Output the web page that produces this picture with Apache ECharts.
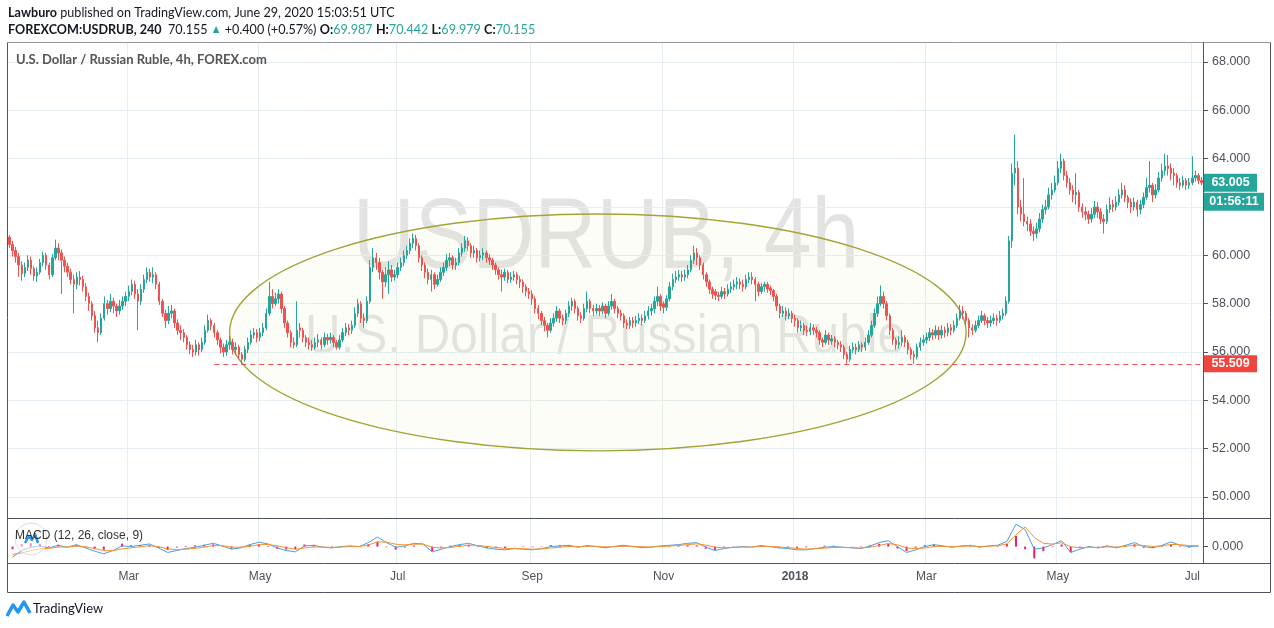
<!DOCTYPE html>
<html><head><meta charset="utf-8">
<script src="https://cdn.jsdelivr.net/npm/echarts@6/dist/echarts.min.js"></script>
<style>html,body{margin:0;padding:0;background:#fff}#c{width:1274px;height:628px}</style>
</head><body><div id="c"></div>
<script>
// ---------- DATA (daily candles, Jan 5 2017 - Jul 2018) ----------
const opens = [
// Jan 2017
60.75,60.45,60.2,59.95,59.6,59.25,59.5,59.8,59.45,59.15,59.3,59.7,60.0,59.6,59.2,59.9,60.3,60.1,59.8,
// Feb
59.55,59.3,59.0,58.8,59.1,59.0,58.7,58.3,58.0,57.5,57.0,56.8,57.4,58.0,57.8,58.1,57.9,57.7,57.9,58.1,
// Mar
58.3,58.5,58.8,58.4,58.1,58.6,59.0,59.3,59.1,59.2,58.8,58.1,57.6,57.3,57.6,57.7,57.2,56.9,56.8,56.6,56.3,56.1,56.0,
// Apr
56.3,56.1,56.4,56.9,57.3,57.1,56.8,56.5,56.2,56.0,56.3,56.4,56.1,56.2,55.9,55.7,56.1,56.4,56.7,56.8,
// May
56.6,56.8,57.0,57.6,58.3,58.0,58.2,58.4,57.8,57.2,56.8,56.4,56.3,57.0,56.9,56.6,56.4,56.3,56.2,56.4,56.5,56.3,56.6,
// Jun
56.5,56.6,56.4,56.2,56.5,56.8,57.0,56.9,57.1,57.6,58.0,57.4,57.3,58.1,59.5,59.9,59.7,59.3,58.9,59.2,59.4,59.1,
// Jul
59.2,59.5,59.7,60.0,60.2,60.5,60.7,60.4,59.9,59.6,59.3,59.0,59.2,58.8,59.0,59.3,59.5,59.8,59.9,59.6,59.7,
// Aug
60.1,60.3,60.6,60.4,60.1,60.2,59.9,60.0,60.1,59.9,59.8,59.6,59.4,59.2,59.1,59.3,59.0,59.1,59.2,59.0,58.9,58.7,58.5,
// Sep
58.4,58.2,57.8,57.6,57.3,57.1,56.9,57.2,57.4,57.7,57.4,57.3,57.6,57.9,58.1,57.8,57.5,57.4,57.8,58.1,57.8,
// Oct
57.7,57.8,57.7,57.9,57.6,57.9,58.1,57.8,57.6,57.5,57.2,57.1,57.3,57.2,57.3,57.4,57.3,57.5,57.7,57.8,58.1,58.3,
// Nov
58.0,57.85,58.2,58.7,59.0,59.1,59.2,59.1,59.2,59.4,59.8,60.1,59.9,59.6,59.2,58.9,58.6,58.5,58.35,58.3,58.5,58.4,
// Dec
58.6,58.7,58.8,58.9,58.8,58.7,59.0,59.1,59.0,58.8,58.5,58.7,58.8,58.65,58.55,58.3,57.9,57.6,57.7,57.5,57.6,
// Jan 2018
57.4,57.3,57.0,57.1,56.9,56.85,57.0,56.9,56.8,56.5,56.4,56.7,56.45,56.55,56.4,56.3,56.2,55.9,55.7,56.1,56.2,56.1,56.3,
// Feb
56.2,56.4,56.7,57.1,57.6,58.0,58.3,58.0,57.5,56.9,56.5,56.3,56.4,56.6,56.4,56.1,55.9,55.8,56.2,56.4,
// Mar
56.5,56.6,56.8,56.7,56.9,56.7,56.9,56.8,57.0,56.9,57.1,57.4,57.7,57.6,57.3,57.0,56.9,57.1,57.3,57.5,57.3,57.2,
// Apr
57.3,57.4,57.3,57.5,57.6,58.1,60.6,63.4,63.6,62.0,61.7,61.4,61.3,61.0,60.9,61.1,61.5,61.9,62.0,62.5,62.7,
// May
63.0,63.6,63.9,63.3,63.0,62.7,62.5,62.6,62.0,61.8,61.7,61.5,61.7,62.0,61.8,61.5,61.4,61.9,62.1,62.0,62.2,62.5,62.7,
// Jun
62.4,62.2,62.0,62.2,61.9,62.1,62.4,62.8,62.9,62.5,62.7,63.2,63.5,63.7,63.6,63.4,63.3,63.0,62.9,63.1,62.9,
// Jul
63.0,63.2,63.3,63.1
];
const closes = [
60.45,60.2,59.95,59.6,59.25,59.5,59.8,59.45,59.15,59.3,59.7,60.0,59.6,59.2,59.9,60.3,60.1,59.8,59.55,
59.3,59.0,58.8,59.1,59.0,58.7,58.3,58.0,57.5,57.0,56.8,57.4,58.0,57.8,58.1,57.9,57.7,57.9,58.1,58.3,
58.5,58.8,58.4,58.1,58.6,59.0,59.3,59.1,59.2,58.8,58.1,57.6,57.3,57.6,57.7,57.2,56.9,56.8,56.6,56.3,56.1,56.0,56.3,
56.1,56.4,56.9,57.3,57.1,56.8,56.5,56.2,56.0,56.3,56.4,56.1,56.2,55.9,55.7,56.1,56.4,56.7,56.8,56.6,
56.8,57.0,57.6,58.3,58.0,58.2,58.4,57.8,57.2,56.8,56.4,56.3,56.9,56.9,56.6,56.4,56.3,56.2,56.4,56.5,56.3,56.6,56.5,
56.6,56.4,56.2,56.5,56.8,57.0,56.9,57.1,57.6,58.0,57.4,57.3,58.1,59.5,59.9,59.7,59.3,58.9,59.2,59.4,59.1,59.2,
59.5,59.7,60.0,60.2,60.5,60.7,60.4,59.9,59.6,59.3,59.0,59.2,58.8,59.0,59.3,59.5,59.8,59.9,59.6,59.7,60.1,
60.3,60.6,60.4,60.1,60.2,59.9,60.0,60.1,59.9,59.8,59.6,59.4,59.2,59.1,59.3,59.0,59.1,59.2,59.0,58.9,58.7,58.5,58.4,
58.2,57.8,57.6,57.3,57.1,56.9,57.2,57.4,57.7,57.4,57.3,57.6,57.9,58.1,57.8,57.5,57.4,57.8,58.1,57.8,57.7,
57.8,57.7,57.9,57.6,57.9,58.1,57.8,57.6,57.5,57.2,57.1,57.3,57.2,57.3,57.4,57.3,57.5,57.7,57.8,58.1,58.3,57.9,
57.85,58.2,58.7,59.0,59.1,59.2,59.1,59.2,59.4,59.8,60.1,59.9,59.6,59.2,58.9,58.6,58.4,58.35,58.3,58.5,58.4,58.6,
58.7,58.8,58.9,58.8,58.7,59.0,59.1,59.0,58.8,58.5,58.7,58.8,58.6,58.55,58.3,57.9,57.6,57.7,57.5,57.6,57.4,
57.3,57.0,57.1,56.9,56.85,57.0,56.9,56.8,56.5,56.4,56.7,56.5,56.55,56.4,56.3,56.2,55.9,55.7,56.1,56.2,56.1,56.3,56.2,
56.4,56.7,57.1,57.6,58.0,58.3,58.0,57.5,56.9,56.5,56.3,56.4,56.6,56.4,56.1,55.9,55.8,56.2,56.4,56.5,
56.6,56.8,56.7,56.9,56.7,56.9,56.8,57.0,56.9,57.1,57.4,57.7,57.6,57.3,57.0,56.9,57.1,57.3,57.5,57.3,57.2,57.3,
57.4,57.3,57.5,57.6,58.1,60.6,63.4,63.6,62.0,61.7,61.4,61.3,61.0,60.9,61.1,61.5,61.9,62.0,62.5,62.7,63.0,
63.6,63.9,63.3,63.0,62.7,62.5,62.6,62.0,61.8,61.7,61.5,61.7,62.0,61.8,61.5,61.4,61.9,62.1,62.0,62.2,62.5,62.7,62.4,
62.2,62.0,62.2,61.9,62.1,62.4,62.8,62.9,62.5,62.7,63.2,63.5,63.7,63.6,63.4,63.3,63.0,62.9,63.1,62.9,63.0,
63.2,63.3,63.1,63.005
];
const lows = [
60.3,59.95,59.7,59.1,58.95,59.1,59.35,59.2,58.95,58.9,59.2,59.55,59.4,59.0,59.1,59.8,59.8,58.4,59.3,
59.1,58.8,57.6,58.6,58.75,58.5,58.1,57.7,57.3,56.8,56.4,56.7,57.3,57.55,57.65,57.6,57.45,57.55,57.75,57.9,
58.1,58.35,58.2,56.9,57.95,58.45,58.85,58.9,58.85,58.6,57.95,57.45,57.0,57.15,57.4,57.0,56.7,56.5,56.4,56.1,55.9,55.8,55.85,
55.85,56.0,56.3,56.8,56.9,56.6,56.3,55.95,55.8,55.85,56.1,55.9,55.9,55.7,55.51,55.6,55.95,56.3,56.55,56.4,
56.45,56.65,56.9,57.5,57.8,57.9,58.0,57.6,57.0,56.6,56.2,56.15,56.2,56.6,56.4,56.2,56.1,56.05,56.1,56.2,56.1,56.2,56.3,
56.35,56.2,56.1,56.1,56.4,56.65,56.7,56.75,57.0,57.45,57.2,57.0,57.2,58.0,59.3,59.4,59.0,58.2,58.7,58.4,58.9,58.95,
59.05,59.35,59.55,59.85,60.05,60.3,60.2,59.7,59.35,59.05,58.8,58.5,58.6,58.7,58.9,59.15,59.35,59.55,59.4,59.4,59.6,
59.95,60.15,60.2,59.9,59.9,59.7,59.75,59.8,59.7,59.6,59.4,59.2,59.0,58.5,58.95,58.85,58.85,58.95,58.8,58.65,58.45,58.3,58.2,
57.95,57.6,57.35,57.1,56.85,56.6,56.8,57.05,57.25,57.2,57.1,57.15,57.45,57.7,57.6,57.3,57.2,57.3,57.65,57.6,57.5,
57.55,57.5,57.55,57.4,57.5,57.75,57.6,57.4,57.3,57.0,56.95,56.95,57.0,57.05,57.15,57.1,57.2,57.35,57.5,57.6,57.9,57.7,
57.6,57.7,58.1,58.55,58.85,58.95,58.9,58.95,59.05,59.3,59.65,59.6,59.4,59.0,58.7,58.4,58.2,58.15,58.1,58.2,58.2,58.3,
58.45,58.55,58.6,58.6,58.5,58.6,58.85,58.8,58.1,58.3,58.4,58.5,58.45,58.35,58.1,57.7,57.4,57.45,57.3,57.35,57.2,
57.05,56.8,56.85,56.7,56.65,56.7,56.7,56.6,56.3,56.2,56.3,56.3,56.3,56.2,56.1,56.0,55.7,55.52,55.6,55.95,55.9,56.0,56.0,
56.05,56.3,56.6,57.0,57.45,57.9,57.8,57.3,56.7,56.3,56.1,56.15,56.25,56.2,55.9,55.7,55.51,55.7,56.05,56.25,
56.35,56.45,56.5,56.55,56.5,56.55,56.6,56.65,56.7,56.8,57.0,57.3,57.35,57.1,56.6,56.7,56.8,57.0,57.2,57.1,57.0,57.05,
57.15,57.1,57.2,57.35,57.5,58.0,60.3,62.9,61.7,61.4,61.2,61.0,60.8,60.6,60.7,60.95,61.35,61.7,61.9,62.3,62.6,
62.9,63.4,63.1,62.8,62.5,62.2,62.1,61.8,61.55,61.45,61.3,61.35,61.55,61.55,61.3,60.9,61.3,61.75,61.8,61.85,62.05,62.35,62.2,
61.95,61.75,61.85,61.6,61.7,61.95,62.3,62.6,62.2,62.35,62.6,63.05,63.3,63.3,63.1,62.9,62.8,62.7,62.8,62.7,62.75,
62.9,63.05,62.95,62.9
];
const highs = [
60.85,60.6,60.35,60.1,59.75,59.7,60.0,59.95,59.55,59.5,59.85,60.15,60.1,59.7,60.05,60.65,60.5,60.25,59.95,
59.7,59.45,59.2,59.3,59.35,59.15,58.85,58.45,58.1,57.7,57.3,57.6,58.3,58.15,58.4,58.25,58.0,58.15,58.3,58.5,
58.75,59.0,58.95,58.6,58.8,59.2,59.5,59.45,59.5,59.3,58.9,58.2,57.75,57.9,57.95,57.8,57.35,57.1,56.95,56.7,56.45,56.3,56.5,
56.4,56.6,57.1,57.55,57.4,57.2,56.9,56.6,56.35,56.5,56.65,56.55,56.4,56.3,56.0,56.25,56.6,56.9,57.0,56.95,
57.0,57.2,57.8,58.9,58.6,58.45,58.6,58.5,57.9,57.3,56.9,56.6,58.1,57.2,57.0,56.7,56.6,56.5,56.6,56.75,56.6,56.8,56.75,
56.8,56.7,56.5,56.7,57.0,57.2,57.15,57.3,57.85,58.2,58.1,57.6,58.3,59.8,60.3,60.1,59.9,59.4,59.5,59.75,59.6,59.4,
59.7,59.9,60.2,60.4,60.7,60.9,60.85,60.5,60.0,59.7,59.45,59.4,59.3,59.2,59.5,59.7,60.05,60.1,60.0,59.9,60.3,
60.5,60.8,60.75,60.5,60.4,60.3,60.2,60.3,60.2,60.05,59.9,59.7,59.5,59.4,59.45,59.4,59.3,59.35,59.3,59.15,59.0,58.8,58.65,
58.55,58.3,57.95,57.7,57.45,57.2,57.4,57.6,57.9,57.8,57.55,57.75,58.1,58.25,58.2,57.9,57.65,58.0,58.5,58.2,57.95,
58.0,57.95,58.05,58.0,58.1,58.4,58.2,57.9,57.75,57.6,57.35,57.45,57.45,57.5,57.6,57.55,57.7,57.9,58.0,58.3,58.7,58.4,
58.1,58.35,58.9,59.25,59.35,59.4,59.35,59.4,59.6,60.0,60.4,60.3,60.0,59.7,59.3,59.0,58.7,58.6,58.5,58.7,58.65,58.8,
58.9,59.0,59.1,59.05,59.0,59.2,59.3,59.3,59.1,58.9,58.85,58.9,58.9,58.75,58.6,58.4,58.0,57.9,57.85,57.8,57.7,
57.55,57.4,57.3,57.2,57.1,57.2,57.15,57.05,56.9,56.6,56.9,56.8,56.7,56.65,56.5,56.45,56.3,56.0,56.25,56.4,56.35,56.45,56.4,
56.6,56.9,57.3,57.8,58.3,58.75,58.5,58.1,57.6,57.0,56.6,56.65,56.9,56.7,56.5,56.2,56.05,56.35,56.6,56.7,
56.8,57.0,56.95,57.1,57.05,57.1,57.05,57.2,57.15,57.3,57.6,57.95,57.9,57.7,57.4,57.15,57.3,57.5,57.7,57.6,57.45,57.5,
57.6,57.55,57.7,57.8,58.3,60.8,63.8,65.0,63.9,62.3,63.2,61.6,61.5,61.2,61.35,61.75,62.1,62.3,62.8,63.0,63.3,
63.9,64.2,64.0,63.5,63.2,62.9,63.4,62.7,62.15,62.0,61.85,61.95,62.25,62.2,61.95,61.7,62.1,62.4,62.3,62.45,62.75,63.0,62.9,
62.5,62.35,62.4,62.3,62.3,62.6,63.2,63.9,63.0,62.95,63.45,63.8,64.2,64.15,63.8,63.6,63.4,63.2,63.3,63.2,63.2,
64.1,63.5,63.4,63.25
];
// MACD (12, 26, close, 9), one reading every third trading day
const macdLine = [-0.8,-0.3,-0.05,0.05,-0.1,0.1,-0.05,0.15,-0.1,-0.35, -0.55,-0.3,0.05,0.0,0.1,0.2,-0.1,-0.45,-0.3,-0.15, -0.05,0.1,0.25,0.05,-0.2,-0.1,0.15,0.33,0.2,-0.1, -0.3,-0.4,0.05,0.1,-0.05,-0.1,0.0,0.05,0.0,0.3, 0.73,0.3,-0.05,0.05,0.25,0.2,-0.4,-0.2,0.0,0.15, 0.25,0.05,-0.1,-0.2,-0.25,-0.15,-0.2,-0.25,-0.15,0.0, 0.05,0.1,-0.05,0.08,0.0,-0.1,0.02,0.1,0.0,-0.08, -0.05,0.05,0.1,0.15,0.25,0.3,-0.05,-0.3,-0.15,-0.05, 0.0,-0.05,0.08,0.0,-0.1,-0.15,-0.25,-0.25,-0.15,-0.05, 0.0,-0.05,-0.1,-0.15,0.05,0.3,0.45,0.0,-0.45,-0.25, 0.0,0.15,0.05,-0.05,0.05,0.1,-0.05,0.05,0.1,0.4, 1.7,1.3,-0.2,-0.1,0.15,0.45,-0.45,-0.2,0.0,-0.1, 0.05,-0.1,0.1,0.3,0.0,-0.1,0.1,0.35,0.1,0.0, 0.05];
const signalLine = [-0.6,-0.48,-0.31,-0.17,-0.14,-0.04,-0.04,0.04,-0.02,-0.15, -0.31,-0.31,-0.17,-0.1,-0.02,0.07,0.0,-0.18,-0.23,-0.2, -0.14,-0.04,0.08,0.07,-0.04,-0.06,0.02,0.14,0.16,0.06, -0.08,-0.21,-0.11,-0.03,-0.04,-0.06,-0.04,0.0,0.0,0.12, 0.36,0.34,0.18,0.13,0.18,0.19,-0.05,-0.11,-0.07,0.02, 0.11,0.09,0.01,-0.07,-0.14,-0.14,-0.16,-0.2,-0.18,-0.11, -0.05,0.01,-0.01,0.03,0.02,-0.03,-0.01,0.03,0.02,-0.02, -0.03,0.0,0.04,0.08,0.15,0.21,0.11,-0.05,-0.09,-0.07, -0.04,-0.04,0.01,0.01,-0.03,-0.08,-0.15,-0.19,-0.17,-0.12, -0.07,-0.06,-0.08,-0.11,-0.05,0.09,0.23,0.14,-0.1,-0.16, -0.1,0.0,0.02,-0.01,0.01,0.05,0.01,0.03,0.06,0.2, 0.9,1.5,0.7,0.25,0.19,0.29,-0.01,-0.09,-0.05,-0.07, -0.02,-0.05,0.01,0.13,0.08,0.01,0.05,0.17,0.14,0.08, 0.07];
const macdHist = [-0.2,0.18,0.26,0.22,0.04,0.14,-0.01,0.11,-0.08,-0.2, -0.24,0.01,0.22,0.1,0.12,0.13,-0.1,-0.27,-0.07,0.05, 0.09,0.14,0.17,-0.02,-0.16,-0.04,0.13,0.19,0.04,-0.16, -0.22,-0.19,0.16,0.13,-0.01,-0.04,0.04,0.05,0.0,0.18, 0.37,-0.04,-0.23,-0.08,0.07,0.01,-0.35,-0.09,0.07,0.13, 0.14,-0.04,-0.11,-0.13,-0.11,-0.01,-0.04,-0.05,0.03,0.11, 0.1,0.09,-0.04,0.05,-0.02,-0.07,0.03,0.07,-0.02,-0.06, -0.02,0.05,0.06,0.07,0.1,0.09,-0.16,-0.25,-0.06,0.02, 0.04,-0.01,0.07,-0.01,-0.07,-0.07,-0.1,-0.06,0.02,0.07, 0.07,0.01,-0.02,-0.04,0.1,0.21,0.22,-0.14,-0.35,-0.09, 0.1,0.15,0.03,-0.04,0.04,0.05,-0.06,0.02,0.04,0.2, 0.8,-0.2,-0.9,-0.35,-0.04,0.16,-0.44,-0.11,0.05,-0.03, 0.07,-0.05,0.09,0.17,-0.08,-0.11,0.05,0.18,-0.04,-0.08, -0.02];
const lastPrice = 63.005;
const lastPriceTimer = '01:56:11';
const supportLevel = 55.509;
const supportFrom = '2017-04-10';
const ellipseFrom = '2017-04-17', ellipseTo = '2018-03-20', ellipseHigh = 61.71, ellipseLow = 51.91;
const monthNames = ['Jan','Feb','Mar','Apr','May','Jun','Jul','Aug','Sep','Oct','Nov','Dec'];

// ---------- categories: trading days ----------
const dates = [];
(function(){ const d = new Date(Date.UTC(2017,0,5)); while (dates.length < closes.length) { const w = d.getUTCDay(); if (w !== 0 && w !== 6) dates.push(d.toISOString().slice(0,10)); d.setUTCDate(d.getUTCDate()+1);} })();
const macdDates = dates.filter((d,i)=> i % 3 === 0);
function isLabelDay(i, v){ if (i === 0) return false; const m = +v.slice(5,7); return m !== +dates[i-1].slice(5,7) && (m % 2 === 1); }

const candles = closes.map((c,i)=>[opens[i], c, lows[i], highs[i]]);
const UP = '#26a69a', DOWN = '#ef5350', GRIDC = '#e6edf3', FRAME = '#50535e', TXT = '#4c525e';
const AX = 'Liberation Sans, Arial, sans-serif';

const chart = echarts.init(document.getElementById('c'), null, {renderer:'canvas'});
chart.setOption({
  animation: false,
  textStyle: {fontFamily: AX},
  grid: [
    {left: 8, right: 71, top: 43, bottom: 65},
    {left: 8, right: 71, top: 62, bottom: 131},
    {left: 8, right: 71, top: 519, bottom: 65}
  ],
  xAxis: [
    {type:'category', gridIndex:0, data: dates, boundaryGap: true,
     axisLine:{show:false}, axisTick:{show:false},
     axisLabel:{interval: isLabelDay, margin: 8, color: TXT, fontSize: 12, fontFamily: AX,
       formatter: v => { const m = +v.slice(5,7); return m === 1 ? '{y|' + v.slice(0,4) + '}' : monthNames[m-1]; },
       rich: {y: {fontWeight: 'bold', color: TXT, fontSize: 12, fontFamily: AX}}},
     splitLine:{show:true, interval: isLabelDay, lineStyle:{color: GRIDC, width: 1}}},
    {type:'category', gridIndex:1, data: dates, boundaryGap: true, show: false},
    {type:'category', gridIndex:2, data: macdDates, boundaryGap: true, show: false}
  ],
  yAxis: [
    {type:'value', gridIndex:0, min:0, max:1, show:false},
    {type:'value', gridIndex:1, position:'right', min: 50, max: 68, interval: 2,
     axisLine:{show:false}, axisTick:{show:true, length:5, lineStyle:{color: FRAME}},
     axisLabel:{margin: 9, color: TXT, fontSize: 12.5, fontFamily: AX, formatter: v => v.toFixed(3)},
     splitLine:{show:true, lineStyle:{color: GRIDC}}},
    {type:'value', gridIndex:2, position:'right', min: -1.25, max: 2.1,
     axisLine:{show:false}, axisTick:{show:true, length:5, customValues:[0], lineStyle:{color: FRAME}},
     axisLabel:{margin: 9, color: TXT, fontSize: 12.5, fontFamily: AX, customValues:[0], formatter: v => v.toFixed(3)},
     splitLine:{show:false}}
  ],
  series: [
    {type:'candlestick', xAxisIndex:1, yAxisIndex:1, data: candles, barWidth: '62%', z: 3,
     itemStyle:{color: UP, color0: DOWN, borderColor: UP, borderColor0: DOWN, borderWidth: 1},
     markLine:{silent:true, symbol:['none','none'], label:{show:false},
       lineStyle:{type:[5,4], color: DOWN, width: 1},
       data:[[{coord:[supportFrom, supportLevel]}, {coord:[dates[dates.length-1], supportLevel]}]]}},
    {type:'bar', xAxisIndex:2, yAxisIndex:2, data: macdHist, barWidth: 2, itemStyle:{color:'#f5196e'}, z: 2},
    {type:'line', xAxisIndex:2, yAxisIndex:2, data: macdLine, symbol:'none', lineStyle:{color:'#4a9fe0', width:1}, z: 3},
    {type:'line', xAxisIndex:2, yAxisIndex:2, data: signalLine, symbol:'none', lineStyle:{color:'#f5932a', width:1}, z: 3}
  ]
});

function px(x, y){ return chart.convertToPixel({gridIndex:1}, [x, y]); }
const pL = px(ellipseFrom, ellipseHigh), pR = px(ellipseTo, ellipseLow);
const yLast = chart.convertToPixel({yAxisIndex:1}, lastPrice);
const ySup = chart.convertToPixel({yAxisIndex:1}, supportLevel);
const HF = 'Lato, "Open Sans", sans-serif';
const g = [];
// watermark
g.push({type:'text', x: 606, y: 240, z: -5, scaleX: 0.86, silent:true,
  style:{text:'USDRUB, 4h', font:'100px ' + AX, fill:'rgba(0,0,0,0.11)', align:'center', verticalAlign:'middle'}});
g.push({type:'text', x: 605, y: 338, z: -5, scaleX: 0.88, silent:true,
  style:{text:'U.S. Dollar / Russian Ruble', font:'56px ' + AX, fill:'rgba(0,0,0,0.11)', align:'center', verticalAlign:'middle'}});
// ellipse annotation
g.push({type:'ellipse', z: 1, silent:true,
  shape:{cx:(pL[0]+pR[0])/2, cy:(pL[1]+pR[1])/2, rx:(pR[0]-pL[0])/2, ry:(pR[1]-pL[1])/2},
  style:{fill:'rgba(230,230,150,0.07)', stroke:'#a3a337', lineWidth:1.4}});
// frame lines
const L = (x1,y1,x2,y2,c) => ({type:'line', z: 10, silent:true, shape:{x1,y1,x2,y2}, style:{stroke:c||FRAME, lineWidth:1}});
g.push(L(7.5,42.5,1270.5,42.5,'#9598a1'));
g.push(L(7.5,42.5,7.5,592.5));
g.push(L(1270.5,42.5,1270.5,592.5));
g.push(L(7.5,592.5,1270.5,592.5));
g.push(L(1203.5,42.5,1203.5,563.5));
g.push(L(7.5,518.5,1270.5,518.5));
g.push(L(7.5,563.5,1270.5,563.5));
// price boxes
g.push({type:'rect', z: 11, shape:{x:1204, y: yLast-9, width:53, height:18}, style:{fill: UP}});
g.push({type:'text', z: 12, x: 1230.5, y: yLast, style:{text: lastPrice.toFixed(3), font:'bold 12.5px ' + AX, fill:'#fff', align:'center', verticalAlign:'middle'}});
g.push({type:'rect', z: 11, shape:{x:1204, y: yLast+10, width:60, height:18}, style:{fill: UP}});
g.push({type:'text', z: 12, x: 1234, y: yLast+19, style:{text: lastPriceTimer, font:'bold 12.5px ' + AX, fill:'#fff', align:'center', verticalAlign:'middle'}});
g.push({type:'rect', z: 11, shape:{x:1204, y: ySup-8.5, width:53, height:17}, style:{fill: '#f0453f'}});
g.push({type:'text', z: 12, x: 1230.5, y: ySup, style:{text: supportLevel.toFixed(3), font:'bold 12.5px ' + AX, fill:'#fff', align:'center', verticalAlign:'middle'}});
// header texts
g.push({type:'text', x: 8, y: 12, scaleX: 0.9, style:{text:'{b|Lawburo} published on TradingView.com, June 29, 2020 15:03:51 UTC',
  font:'14px ' + HF, fill:'#131722', verticalAlign:'middle', rich:{b:{font:'bold 14px ' + HF, fill:'#131722'}}}});
g.push({type:'text', x: 8, y: 29, scaleX: 0.9, style:{text:'{b|FOREXCOM:USDRUB, 240}  70.155 {t|▲} +0.400 (+0.57%) {b|O:}{g|69.987} {b|H:}{g|70.442} {b|L:}{g|69.979} {b|C:}{g|70.155}',
  font:'14px ' + HF, fill:'#131722', verticalAlign:'middle',
  rich:{b:{font:'bold 14px ' + HF, fill:'#131722'}, g:{font:'14px ' + HF, fill: UP}, t:{font:'12px ' + HF, fill: UP}}}});
g.push({type:'text', x: 16, y: 60, z: 10, style:{text:'U.S. Dollar / Russian Ruble, 4h, FOREX.com', font:'bold 13px ' + HF, fill:'#555', verticalAlign:'middle'}});
// MACD legend + badge
g.push({type:'circle', z: 9, shape:{cx: 31, cy: 539, r: 16}, style:{fill:'rgba(255,255,255,0.5)', stroke:'#dcdcdc', lineWidth:1}});
g.push({type:'polyline', z: 9, shape:{points:[[25,543],[29,536],[32,540],[35,534],[38,543]]}, style:{stroke:'#2196f3', lineWidth:2.5, fill:'none', lineJoin:'round'}});
g.push({type:'text', x: 15, y: 536, z: 10, style:{text:'MACD (12, 26, close, 9)', font:'12px ' + AX, fill:'#333', verticalAlign:'middle'}});
// TradingView footer
g.push({type:'polyline', shape:{points:[[7,616],[13,605],[18,612],[24,602],[30,613]]}, style:{stroke:'#2196f3', lineWidth:3.5, fill:'none', lineJoin:'round'}});
g.push({type:'text', x: 33, y: 609, style:{text:'TradingView', font:'13px ' + HF, fill:'#131722', verticalAlign:'middle'}});
if (opens.length !== closes.length || lows.length !== closes.length || highs.length !== closes.length || macdLine.length !== macdDates.length || signalLine.length !== macdDates.length || macdHist.length !== macdDates.length) {
  g.push({type:'text', x: 300, y: 600, style:{text:'LEN MISMATCH', font:'12px sans-serif', fill:'red'}});
}
chart.setOption({graphic: g});
</script>
</body></html>
